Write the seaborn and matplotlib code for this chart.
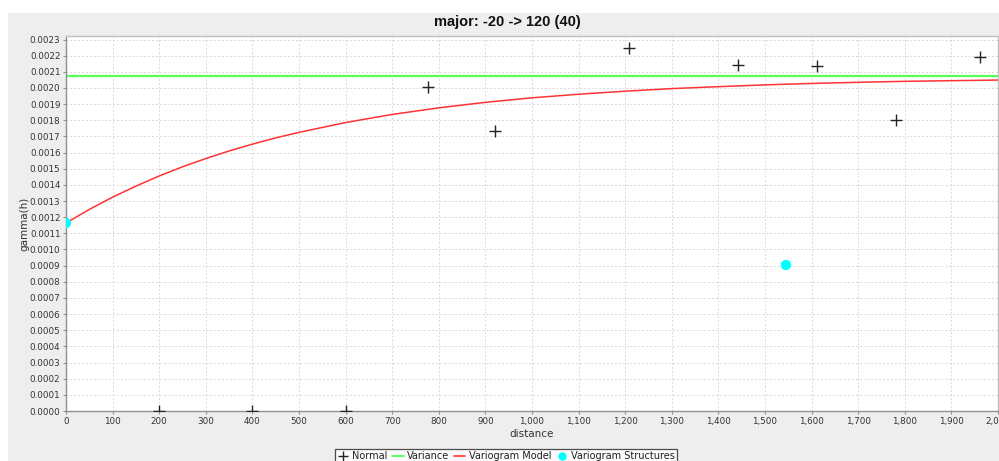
import matplotlib
matplotlib.use("Agg")
import matplotlib.pyplot as plt
from matplotlib.patches import Rectangle
from matplotlib.lines import Line2D
from matplotlib.ticker import FuncFormatter, MultipleLocator
import seaborn as sns
import pandas as pd

# Experimental variogram points (lag distance, gamma)
lag_distance = [200, 400, 600, 777, 920, 1208, 1442, 1612, 1781, 1961]
lag_gamma = [0.0, 0.0, 0.0, 0.002006, 0.001734, 0.002248, 0.002142, 0.002136, 0.001802, 0.002192]

# Sample variance
variance = 0.002074

# Fitted variogram model curve
model_distance = [0, 50, 100, 150, 200, 250, 300, 350, 400, 450, 500, 600, 700, 800,
                  900, 1000, 1100, 1200, 1300, 1400, 1500, 1600, 1700, 1800, 1900, 2000]
model_gamma = [0.001164, 0.001248, 0.001324, 0.001392, 0.001455, 0.001512, 0.001563,
               0.001610, 0.001652, 0.001691, 0.001725, 0.001786, 0.001836, 0.001877,
               0.001911, 0.001939, 0.001961, 0.001980, 0.001996, 0.002008, 0.002019,
               0.002028, 0.002035, 0.002041, 0.002045, 0.002049]

# Structure markers (nugget and range/contribution)
struct_distance = [0, 1545]
struct_gamma = [0.001164, 0.000904]

sns.set_theme(style="white")
plt.rcParams["font.family"] = ["DejaVu Sans"]

W, H = 999, 461
fig = plt.figure(figsize=(W / 100, H / 100), dpi=100)
fig.patch.set_facecolor("white")
fig.patches.append(Rectangle((8 / W, 0), 1, 1 - 13 / H, transform=fig.transFigure,
                             facecolor="#eeeeee", edgecolor="none", zorder=-10))

ax = fig.add_axes([66 / W, 1 - 411 / H, 932 / W, (411 - 36) / H])
ax.set_facecolor("white")

pts = pd.DataFrame({"distance": lag_distance, "gamma": lag_gamma})
model = pd.DataFrame({"distance": model_distance, "gamma": model_gamma})
struct = pd.DataFrame({"distance": struct_distance, "gamma": struct_gamma})

ax.axhline(variance, color="#55ff55", lw=1.6, zorder=2)
sns.lineplot(data=model, x="distance", y="gamma", ax=ax, color="#ff3333", lw=1.1,
             zorder=3, legend=False)
sns.scatterplot(data=struct, x="distance", y="gamma", ax=ax, color="#00ffff", s=55,
                edgecolor="none", zorder=4, legend=False)
sns.scatterplot(data=pts, x="distance", y="gamma", ax=ax, marker="+", color="#222222",
                s=70, linewidth=1.0, zorder=5, legend=False)
# keep every mark inside the plotting area
for coll in ax.collections:
    coll.set_clip_on(True)
    coll.set_clip_path(ax.patch)

ax.set_xlim(0, 2000)
ax.set_ylim(0, 0.0023 + 3.5 / 16.15 * 0.0001)
ax.xaxis.set_major_locator(MultipleLocator(100))
ax.yaxis.set_major_locator(MultipleLocator(0.0001))
ax.xaxis.set_major_formatter(FuncFormatter(lambda v, p: f"{v:,.0f}"))
ax.yaxis.set_major_formatter(FuncFormatter(lambda v, p: f"{v:.4f}"))
ax.grid(True, color="#dadada", linestyle=(0, (2, 2)), lw=0.7)
ax.set_axisbelow(True)

for side in ["top", "right"]:
    ax.spines[side].set_color("#c0c0c0")
    ax.spines[side].set_linewidth(1.0)
for side in ["left", "bottom"]:
    ax.spines[side].set_color("#909090")
    ax.spines[side].set_linewidth(1.0)

ax.tick_params(axis="both", which="major", direction="out", length=2, width=0.8,
               color="#909090", labelsize=6.3, labelcolor="#333333", pad=2,
               bottom=True, left=True)

ax.set_xlabel("distance", fontsize=7.5, color="#333333")
ax.set_ylabel("gamma(h)", fontsize=7.5, color="#333333")
ax.xaxis.set_label_coords(0.5, -(434 - 411) / (411 - 36), transform=ax.transAxes)
ax.xaxis.label.set_va("center")
ax.yaxis.set_label_coords(-(66 - 24) / 932, 0.5, transform=ax.transAxes)
ax.yaxis.label.set_va("center")

fig.text(507 / W, 1 - 22 / H, "major: -20 -> 120 (40)", ha="center", va="center",
         fontsize=10.5, fontweight="bold", family=["Liberation Sans", "DejaVu Sans"],
         color="#111111")

handles = [
    Line2D([], [], marker="+", color="#222222", lw=0, markersize=7, markeredgewidth=1.0),
    Line2D([], [], color="#44ff44", lw=1.2),
    Line2D([], [], color="#ff3333", lw=1.2),
    Line2D([], [], marker="o", color="#00ffff", lw=0, markersize=6, markeredgewidth=0),
]
labels = ["Normal", "Variance", "Variogram Model", "Variogram Structures"]
leg = fig.legend(handles, labels, loc="upper center", bbox_to_anchor=(506 / W, 1 - 449 / H),
                 ncol=4, frameon=True, fancybox=False, fontsize=7, handlelength=1.2,
                 handletextpad=0.35, columnspacing=0.45, borderpad=0.25, borderaxespad=0)
leg.get_frame().set_edgecolor("#222222")
leg.get_frame().set_linewidth(0.9)
leg.get_frame().set_facecolor("white")
for t in leg.get_texts():
    t.set_color("#222222")

fig.savefig("out.png", dpi=100)
